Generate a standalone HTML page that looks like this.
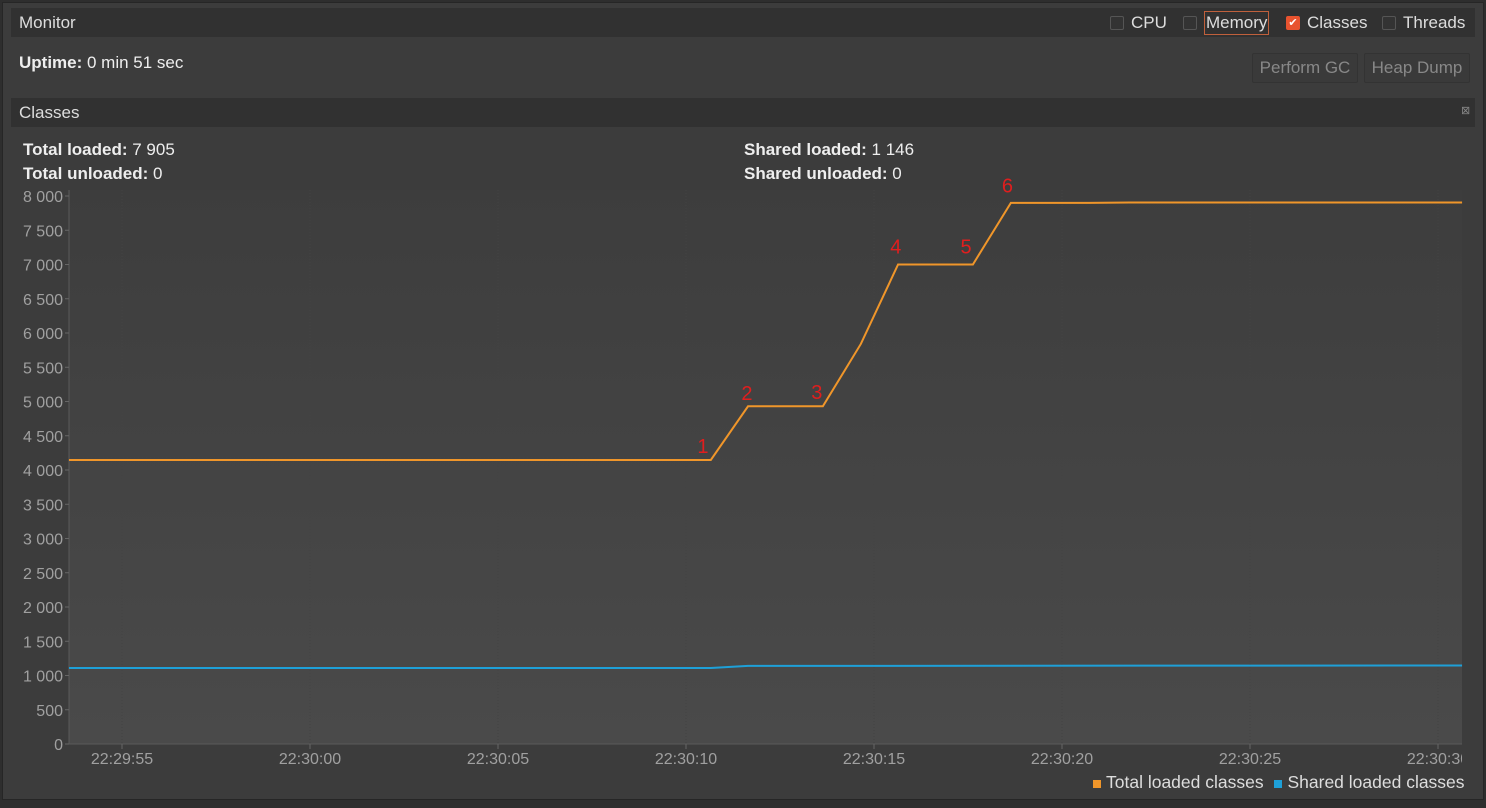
<!DOCTYPE html>
<html><head><meta charset="utf-8"><style>
body{margin:0;width:1486px;height:808px;background:#2e2e2e;font-family:"Liberation Sans",sans-serif;overflow:hidden;position:relative}
.abs{position:absolute}
.win{left:2px;top:2px;width:1480px;height:796px;background:#3c3c3c;border:1px solid #262626}
.bar{background:#313131;color:#ddd;font-size:17px}
.item{display:flex;align-items:center;height:20px}
.cb{display:inline-block;box-sizing:border-box;width:14px;height:14px;border:1px solid #555;border-radius:2px;background:#333;margin-right:7px;flex:none}
.btn{border:1px solid #333;background:#3a3a3a;color:#888;font-size:17px;border-radius:2px;text-align:center;line-height:28px}
.t{color:#eee;font-size:17px}
</style></head><body>
<div class="abs win"></div>
<div class="abs bar" style="left:11px;top:8px;width:1464px;height:29px">
 <span class="abs" style="left:8px;top:5px">Monitor</span>
 <span class="abs item" style="left:1099px;top:5px"><span class="cb"></span>CPU</span>
 <span class="abs item" style="left:1172px;top:5px"><span class="cb"></span><span style="border:1px solid #c0603c;padding:1px 1px">Memory</span></span>
 <span class="abs item" style="left:1275px;top:5px"><span class="cb" style="background:#e8532f;border-color:#e8532f;color:#fff;font-size:11px;line-height:12px;text-align:center">✔</span>Classes</span>
 <span class="abs item" style="left:1371px;top:5px"><span class="cb"></span>Threads</span>
</div>
<div class="abs t" style="left:19px;top:53px"><b>Uptime:</b> 0 min 51 sec</div>
<div class="abs btn" style="left:1252px;top:53px;width:104px;height:28px">Perform GC</div>
<div class="abs btn" style="left:1364px;top:53px;width:104px;height:28px">Heap Dump</div>
<div class="abs bar" style="left:11px;top:98px;width:1464px;height:29px">
 <span class="abs" style="left:8px;top:5px">Classes</span>
 <span class="abs" style="left:1450px;top:6px;font-size:11px;color:#888">⊠</span>
</div>
<div class="abs t" style="left:23px;top:140px"><b>Total loaded:</b> 7 905</div>
<div class="abs t" style="left:23px;top:164px"><b>Total unloaded:</b> 0</div>
<div class="abs t" style="left:744px;top:140px"><b>Shared loaded:</b> 1 146</div>
<div class="abs t" style="left:744px;top:164px"><b>Shared unloaded:</b> 0</div>
<svg class="abs" style="left:0;top:0" width="1486" height="808" id="chart">
<defs><linearGradient id="g" x1="0" y1="0" x2="0" y2="1"><stop offset="0" stop-color="#3d3d3d"/><stop offset="1" stop-color="#4a4a4a"/></linearGradient>
<clipPath id="cp"><rect x="0" y="0" width="1462" height="808"/></clipPath></defs>
<rect x="69" y="190" width="1393" height="554" fill="url(#g)"/>
<g id="grid"></g><g id="axes" clip-path="url(#cp)"></g><g id="series"></g><g id="ann"></g>
</svg>
<div class="abs" style="left:1093px;top:772px;font-size:17.5px;color:#ddd;white-space:nowrap">
 <span><span style="display:inline-block;width:8px;height:8px;background:#f0962a;margin-right:5px"></span>Total loaded classes</span>
 <span style="margin-left:6px"><span style="display:inline-block;width:8px;height:8px;background:#1ea0d8;margin-right:5px"></span>Shared loaded classes</span>
</div>
<script>
const totalTimes=[-1.41,15.66,16.65,18.64,19.65,20.64,22.63,23.64,25.74,26.8,35.64];
const totalValues=[4146,4146,4930,4930,5840,7000,7000,7900,7900,7905,7905];
const sharedTimes=[-1.41,15.66,16.65,35.64];
const sharedValues=[1110,1110,1140,1146];
const yTicks=[0,500,1000,1500,2000,2500,3000,3500,4000,4500,5000,5500,6000,6500,7000,7500,8000];
const xTickTimes=[0,5,10,15,20,25,30,35];
const xTickLabels=["22:29:55","22:30:00","22:30:05","22:30:10","22:30:15","22:30:20","22:30:25","22:30:30"];
const annLabels=["1","2","3","4","5","6"];
const annTimes=[15.45,16.62,18.48,20.58,22.45,23.55];
const annValues=[4250,5020,5040,7160,7160,8050];
const NS="http://www.w3.org/2000/svg";
const X=t=>122+t*37.6, Y=v=>744-v*0.0685;
function mk(tag,attrs,parent,text){const e=document.createElementNS(NS,tag);for(const k in attrs)e.setAttribute(k,attrs[k]);if(text!==undefined)e.textContent=text;document.getElementById(parent).appendChild(e);return e;}
mk('line',{x1:69,y1:190,x2:69,y2:744,stroke:'#5a5a5a'},'grid');
mk('line',{x1:69,y1:744,x2:1462,y2:744,stroke:'#5a5a5a'},'grid');
yTicks.forEach(v=>{
 const l=mk('line',{x1:65,x2:69,y1:Y(v),y2:Y(v),stroke:'#666'},'grid');
 
 
 const t=mk('text',{x:63,y:Y(v)+6,'text-anchor':'end',fill:'#a0a0a0','font-size':16,'font-family':'Liberation Sans'},'grid',v.toLocaleString('fr-FR').replace(/\s/g,' '));
 
 
});
xTickTimes.forEach((s,i)=>{
 mk('line',{x1:X(s),x2:X(s),y1:190,y2:744,stroke:'#434343','stroke-dasharray':'1,2'},'grid');
 mk('line',{x1:X(s),x2:X(s),y1:744,y2:749,stroke:'#666'},'axes');
 const t=mk('text',{x:X(s),y:764,'text-anchor':'middle',fill:'#a0a0a0','font-size':16,'font-family':'Liberation Sans'},'axes',xTickLabels[i]);
 
 
});
function line(ts,vs,c,name){const p=mk('polyline',{points:ts.map((t,i)=>X(t)+','+Y(vs[i])).join(' '),fill:'none',stroke:c,'stroke-width':2},'series');
 
 }
line(sharedTimes,sharedValues,'#1ea0d8','shared-loaded-line');
line(totalTimes,totalValues,'#f0962a','total-loaded-line');
annLabels.forEach((s,i)=>{
 const t=mk('text',{x:X(annTimes[i]),y:Y(annValues[i]),'text-anchor':'middle',fill:'#e01e1e','font-size':20,'font-family':'Liberation Sans'},'ann',s);
 
 
});
</script>
</body></html>
